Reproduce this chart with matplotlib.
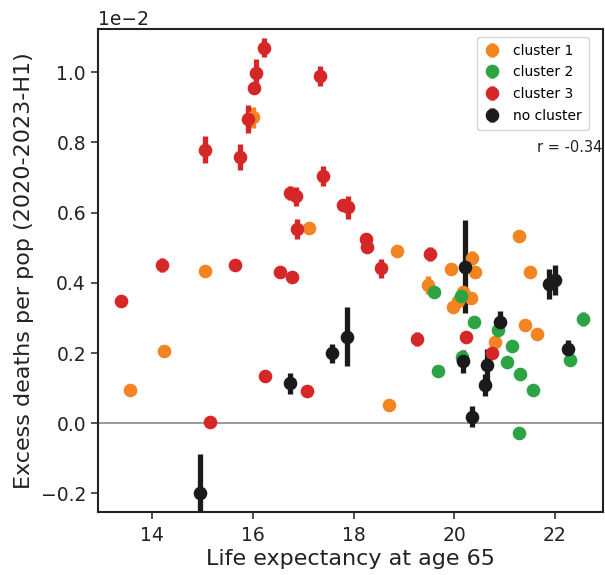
import numpy as np
import matplotlib
matplotlib.use("Agg")
import matplotlib.pyplot as plt

# ---- data (y values in units of 1e-2) ----
c1_x = [16.01, 15.05, 13.55, 14.23, 17.11, 18.86, 18.71, 19.48, 20.35, 20.41, 19.93,
        21.29, 21.50, 20.17, 20.33, 19.98, 20.08, 21.41, 21.65, 20.80]
c1_y = [0.872, 0.434, 0.096, 0.206, 0.555, 0.491, 0.052, 0.394, 0.470, 0.432, 0.440,
        0.532, 0.430, 0.375, 0.358, 0.332, 0.347, 0.280, 0.254, 0.232]
c1_e = [0.030, 0.010, 0.008, 0.008, 0.010, 0.010, 0.008, 0.025, 0.020, 0.010, 0.010,
        0.010, 0.010, 0.010, 0.010, 0.010, 0.010, 0.010, 0.010, 0.010]

c2_x = [19.60, 20.13, 19.68, 20.39, 20.87, 21.14, 20.15, 21.04, 21.31, 21.57, 21.28,
        22.29, 22.55]
c2_y = [0.375, 0.362, 0.149, 0.287, 0.266, 0.220, 0.188, 0.175, 0.140, 0.095, -0.028,
        0.180, 0.296]
c2_e = [0.010, 0.010, 0.008, 0.008, 0.010, 0.008, 0.008, 0.008, 0.008, 0.008, 0.008,
        0.008, 0.020]

c3_x = [16.225, 16.07, 16.03, 15.90, 15.04, 15.75, 17.33, 17.39, 16.74, 16.86, 17.78,
        17.89, 16.87, 18.25, 18.26, 19.52, 18.54, 16.54, 16.77, 14.19, 15.64, 13.37,
        16.24, 15.15, 17.08, 19.25, 20.23, 20.74]
c3_y = [1.070, 0.999, 0.956, 0.867, 0.779, 0.758, 0.990, 0.705, 0.655, 0.646, 0.622,
        0.615, 0.553, 0.524, 0.503, 0.482, 0.441, 0.432, 0.416, 0.451, 0.450, 0.347,
        0.135, 0.003, 0.093, 0.239, 0.245, 0.199]
c3_e = [0.028, 0.038, 0.015, 0.040, 0.039, 0.036, 0.028, 0.028, 0.020, 0.028, 0.015,
        0.033, 0.028, 0.015, 0.015, 0.020, 0.028, 0.010, 0.010, 0.020, 0.010, 0.010,
        0.010, 0.015, 0.010, 0.020, 0.010, 0.010]

nc_x = [14.95, 16.74, 17.58, 17.86, 20.21, 21.89, 22.00, 20.91, 22.25, 20.18, 20.66,
        20.61, 20.35]
nc_y = [-0.199, 0.114, 0.199, 0.247, 0.446, 0.396, 0.408, 0.287, 0.211, 0.176, 0.166,
        0.109, 0.019]
nc_e = [0.112, 0.030, 0.028, 0.083, 0.133, 0.043, 0.043, 0.033, 0.025, 0.034, 0.045,
        0.030, 0.030]

labels = ["cluster 1", "cluster 2", "cluster 3", "no cluster"]
colors = ["#f28522", "#2ca444", "#d62728", "#1a1a1a"]
r_text = "r = -0.34"

fig = plt.figure(figsize=(6.05, 5.75), dpi=100)
ax = fig.add_axes([97.7 / 605, 63.3 / 575, (603 - 97.7) / 605, (546 - 63.3) / 575])

ax.axhline(0, color="#888888", lw=1.2, zorder=1)

series = [(c1_x, c1_y, c1_e), (c2_x, c2_y, c2_e), (c3_x, c3_y, c3_e), (nc_x, nc_y, nc_e)]
for (xs, ys, es), lab, col in zip(series, labels, colors):
    ax.errorbar(xs, np.array(ys) * 1e-2, yerr=np.array(es) * 1e-2, fmt="o",
                color=col, ecolor=col, elinewidth=3.8, markersize=8.8,
                capsize=0, label=lab, zorder=3)

ax.set_xlim(12.915, 22.955)
ax.set_ylim(-0.252e-2, 1.123e-2)
ax.set_xticks([14, 16, 18, 20, 22])
ax.set_yticks(np.array([-0.2, 0.0, 0.2, 0.4, 0.6, 0.8, 1.0]) * 1e-2)
ax.ticklabel_format(style="sci", axis="y", scilimits=(0, 0))
ax.tick_params(labelsize=13.5, length=5, width=1.2, color="#333333", labelcolor="#222222")
ax.tick_params(axis="x", pad=5)
ax.yaxis.get_offset_text().set_fontsize(13.5)
for s in ax.spines.values():
    s.set_linewidth(1.5)
    s.set_color("#222222")

ax.set_xlabel("Life expectancy at age 65", fontsize=16, color="#222222", labelpad=3)
ax.set_ylabel("Excess deaths per pop (2020-2023-H1)", fontsize=16, color="#222222",
              labelpad=5)

leg = ax.legend(loc="upper right", bbox_to_anchor=(0.972, 0.984), borderaxespad=0,
                fontsize=10, frameon=True, handlelength=1.2, handletextpad=0.9,
                borderpad=0.5, labelspacing=0.55)
leg.get_frame().set_edgecolor("#cccccc")
leg.get_frame().set_linewidth(1.0)

ax.text(0.998, 0.755, r_text, transform=ax.transAxes, ha="right", va="center",
        fontsize=10.5, color="#222222")

fig.savefig("out.png", dpi=100)
